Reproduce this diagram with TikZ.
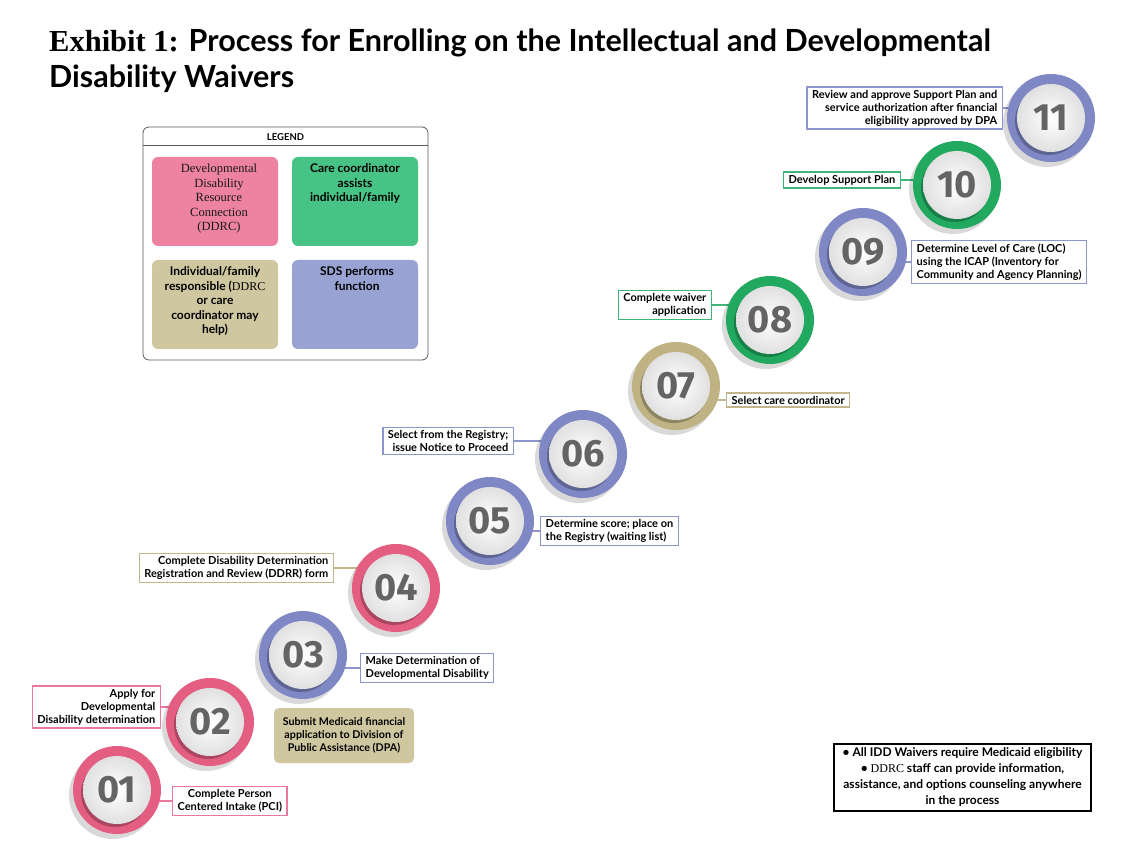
\documentclass[tikz,border=0pt]{standalone}
\usepackage{fontspec}
\setmainfont{Lato}
\newfontfamily\seriffont{Liberation Serif}
\newfontfamily\numfont{Fira Sans}
\usetikzlibrary{shadows}
\definecolor{pinkR}{HTML}{E45E82}
\definecolor{blueR}{HTML}{7F87C5}
\definecolor{greenR}{HTML}{21A95F}
\definecolor{tanR}{HTML}{BFB283}
\definecolor{pinkL}{HTML}{EE83A1}
\definecolor{greenL}{HTML}{47C385}
\definecolor{tanL}{HTML}{CFC79F}
\definecolor{blueL}{HTML}{98A3D3}
\definecolor{pinkB}{HTML}{E8799A}
\definecolor{blueB}{HTML}{8D96CB}
\definecolor{greenB}{HTML}{3FB57A}
\definecolor{tanB}{HTML}{C2B68C}
\definecolor{numgray}{HTML}{646464}
\pgfdeclarelayer{back}
\pgfdeclarelayer{bg}
\pgfsetlayers{back,bg,main}
\begin{document}
\begin{tikzpicture}[x=1pt,y=-1pt,
  ring/.style={circle, inner sep=0pt, minimum size=88pt, fill=#1,
    drop shadow={shadow xshift=-4pt, shadow yshift=-5pt, opacity=0.15, fill=black}},
  ball/.style={circle, inner sep=0pt, minimum size=68pt, inner color=white, outer color=black!12,
    drop shadow={shadow xshift=-2pt, shadow yshift=-3pt, opacity=0.25, fill=black},
    font=\numfont\bfseries\fontsize{38}{38}\selectfont, text=numgray},
  lbl/.style={draw=#1, line width=1.4pt, fill=white, font=\bfseries\fontsize{11}{13}\selectfont,
    inner xsep=5pt, inner ysep=3pt},
  conn/.style={draw=#1, line width=1.4pt},
  lg/.style={fill=#1, rounded corners=6pt, minimum width=126pt, minimum height=89pt, inner sep=0pt},
  lgtext/.style={anchor=north, align=center, inner sep=0pt, font=\bfseries\fontsize{12}{14.5}\selectfont}
]
\begin{pgfonlayer}{back}
\fill[white] (0,0) rectangle (1138,858);
\end{pgfonlayer}
\useasboundingbox (0,0) rectangle (1138,858);

% title
\node[anchor=base west, inner sep=0pt, font=\bfseries\fontsize{30.5}{30.5}\selectfont] (t1) at (49,52)
  {{\seriffont Exhibit 1:} Process for Enrolling on the Intellectual and Developmental};
\node[anchor=base west, inner sep=0pt, font=\bfseries\fontsize{30.5}{30.5}\selectfont] (t2) at (49,88)
  {Disability Waivers};

% legend
\node[draw=black!65, rounded corners=6pt, line width=0.8pt, minimum width=285pt, minimum height=233pt] (legend) at (285.5,243.5) {};
\node[font=\bfseries\fontsize{9.5}{9.5}\selectfont] (lgh) at (285.5,137) {LEGEND};
\draw[black!65, line width=0.8pt] ([yshift=-19pt]legend.north west) -- ([yshift=-19pt]legend.north east);
\node[lg=pinkL] (lg1) at (215,201.5) {};
\node[lg=greenL] (lg2) at (355,201.5) {};
\node[lg=tanL] (lg3) at (215,304.5) {};
\node[lg=blueL] (lg4) at (355,304.5) {};
\node[lgtext, font=\seriffont\fontsize{12.5}{14.5}\selectfont, text=black!90] (lt1) at ([xshift=4pt,yshift=-7pt]lg1.north)
  {Developmental\\Disability\\Resource\\Connection\\(DDRC)};
\node[lgtext] (lt2) at ([yshift=-7pt]lg2.north) {Care coordinator\\assists\\individual/family};
\node[lgtext] (lt3) at ([yshift=-7pt]lg3.north) {Individual/family\\responsible ({\seriffont\mdseries DDRC}\\or care\\coordinator may\\help)};
\node[lgtext] (lt4) at ([xshift=2pt,yshift=-7pt]lg4.north) {SDS performs\\function};

% circles
\foreach \n/\x/\y/\c in {01/117/790/pinkR, 02/210/722/pinkR, 03/303/655/blueR, 04/396/588/pinkR,
  05/490/521/blueR, 06/583/454/blueR, 07/676/386/tanR, 08/770/320/greenR, 09/863/252/blueR,
  10/957/185/greenR, 11/1051/118/blueR}{
  \node[ring=\c] (c\n) at (\x,\y) {};
  \node[ball] (n\n) at (c\n) {\n};
}

% labels
\node[lbl=pinkB, anchor=west, align=center] (b01) at (172,801) {Complete Person\\Centered Intake (PCI)};
\node[lbl=pinkB, anchor=east, align=right] (b02) at (161,707) {Apply for\\Developmental\\Disability determination};
\node[lbl=blueB, anchor=west, align=left] (b03) at (360,668) {Make Determination of\\Developmental Disability};
\node[lbl=tanB, anchor=east, align=right] (b04) at (334,568) {Complete Disability Determination\\Registration and Review (DDRR) form};
\node[lbl=blueB, anchor=west, align=left] (b05) at (540,531) {Determine score; place on\\the Registry (waiting list)};
\node[lbl=blueB, anchor=east, align=right] (b06) at (514,441) {Select from the Registry;\\issue Notice to Proceed};
\node[lbl=tanB, anchor=west] (b07) at (726,400) {Select care coordinator};
\node[lbl=greenB, anchor=east, align=right] (b08) at (712,305) {Complete waiver\\application};
\node[lbl=blueB, anchor=west, align=left] (b09) at (911,262) {Determine Level of Care (LOC)\\using the ICAP (Inventory for\\Community and Agency Planning)};
\node[lbl=greenB, anchor=east] (b10) at (901,180) {Develop Support Plan};
\node[lbl=blueB, anchor=east, align=right] (b11) at (1003,108) {Review and approve Support Plan and\\service authorization after financial\\eligibility approved by DPA};

\begin{pgfonlayer}{bg}
\draw[conn=pinkB] (b01.west) -- (b01.west -| c01.center);
\draw[conn=pinkB] (b02.east) -- (b02.east -| c02.center);
\draw[conn=blueB] (b03.west) -- (b03.west -| c03.center);
\draw[conn=tanB] (b04.east) -- (b04.east -| c04.center);
\draw[conn=blueB] (b05.west) -- (b05.west -| c05.center);
\draw[conn=blueB] (b06.east) -- (b06.east -| c06.center);
\draw[conn=tanB] (b07.west) -- (b07.west -| c07.center);
\draw[conn=greenB] (b08.east) -- (b08.east -| c08.center);
\draw[conn=blueB] (b09.west) -- (b09.west -| c09.center);
\draw[conn=greenB] (b10.east) -- (b10.east -| c10.center);
\draw[conn=blueB] (b11.east) -- (b11.east -| c11.center);
\end{pgfonlayer}

% DPA box
\node[fill=tanL, rounded corners=5pt, minimum width=140pt, minimum height=55pt, align=center,
  font=\bfseries\fontsize{10.7}{13}\selectfont] (dpa) at (344,735.5)
  {Submit Medicaid financial\\application to Division of\\Public Assistance (DPA)};

% note
\node[draw=black, line width=1.6pt, minimum width=257pt, minimum height=67pt, align=center, inner sep=1pt,
  font=\bfseries\fontsize{12}{16}\selectfont] (note) at (962.5,777.5)
  {• All IDD Waivers require Medicaid eligibility\\• {\seriffont\mdseries DDRC} staff can provide information,\\assistance, and options counseling anywhere\\in the process};
\end{tikzpicture}
\end{document}
